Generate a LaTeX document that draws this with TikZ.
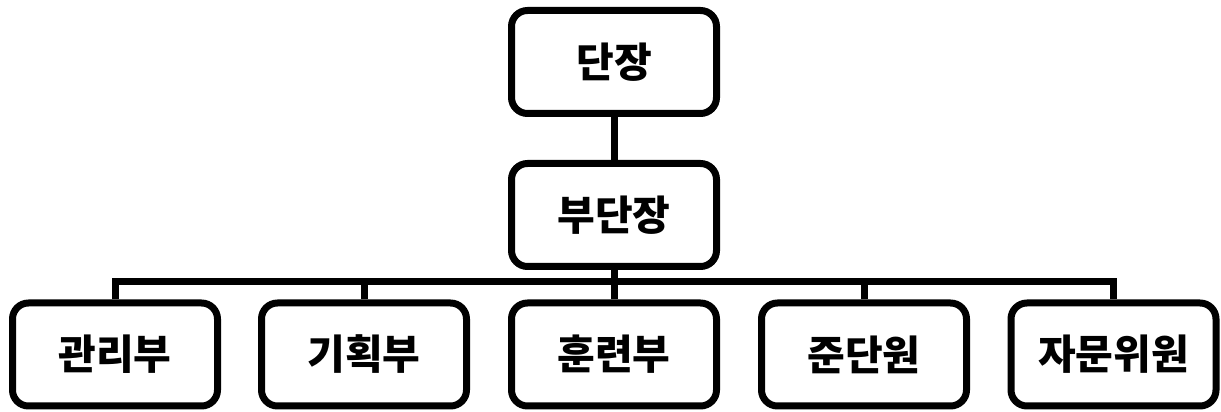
\documentclass[tikz,border=0pt]{standalone}
\usepackage{fontspec}
\setmainfont{Noto Sans CJK KR}
\usepackage{tikz}
\usetikzlibrary{positioning}

\begin{document}
\begin{tikzpicture}[x=1pt, y=1pt, line width=7pt,
    orgbox/.style={draw, rounded corners=16pt, minimum width=205pt,
        minimum height=103pt, inner sep=0pt,
        font=\fontsize{41}{41}\selectfont\bfseries}]
    % 그림 크기 고정
    \useasboundingbox (0,0) rectangle (1221,412);

    % 위쪽 두 칸
    \node[orgbox] (chief) at (614,350) {단장};
    \node[orgbox, below=43pt of chief] (vice) {부단장};

    % 아래쪽 다섯 부서
    \foreach \i/\x/\name in {1/115/관리부, 2/364/기획부, 3/614/훈련부,
                             4/864/준단원, 5/1113.5/자문위원}
        \node[orgbox] (dept\i) at (\x,57.5) {\name};

    % 연결선
    \coordinate (bus) at (614,130);
    \draw (chief) -- (vice);
    \draw (vice) -- (bus);
    \draw[line join=miter] (dept1.north) |- (bus) -| (dept5.north);
    \foreach \i in {2,3,4}
        \draw (dept\i.north) -- (dept\i.north |- bus);
\end{tikzpicture}
\end{document}
